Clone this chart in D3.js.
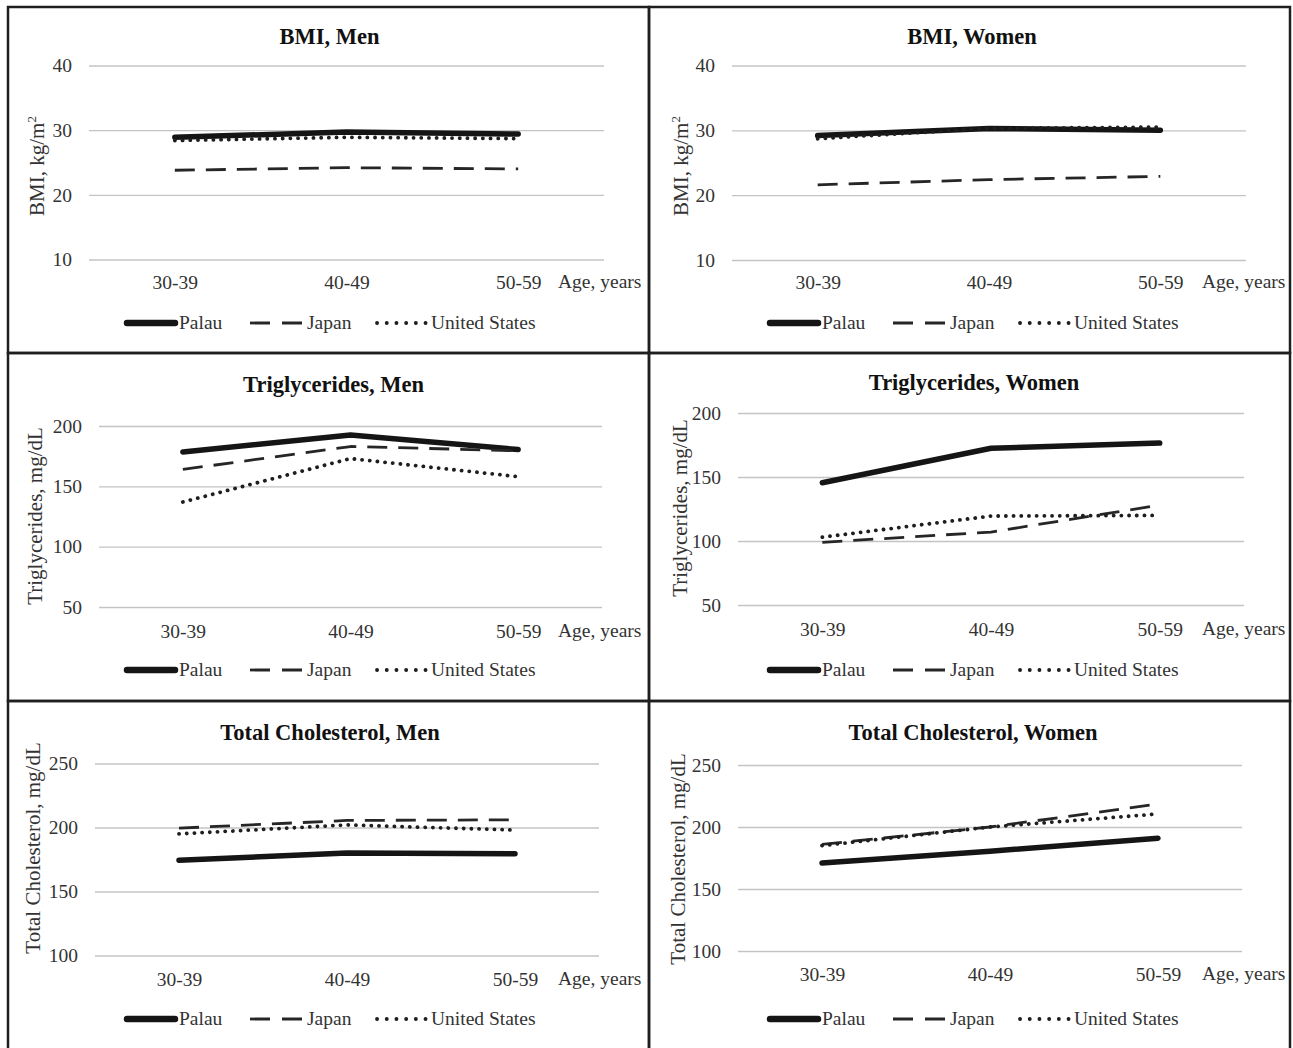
<!DOCTYPE html>
<html>
<head>
<meta charset="utf-8">
<script src="https://cdn.jsdelivr.net/npm/d3@7"></script>
<style>
  html, body { margin: 0; padding: 0; background: #fff; }
  svg { display: block; }
  text { font-family: "Liberation Serif", "Times New Roman", serif; }
</style>
</head>
<body>
<svg id="chart" width="1293" height="1048"></svg>
<script>
// ---------------- data ----------------
const categories = ["30-39", "40-49", "50-59"];
const seriesNames = ["Palau", "Japan", "United States"];

const bmiMenPalau = [28.9, 29.7, 29.4];
const bmiMenJapan = [23.8, 24.2, 24.0];
const bmiMenUS    = [28.4, 28.9, 28.7];

const bmiWomenPalau = [29.2, 30.3, 30.0];
const bmiWomenJapan = [21.6, 22.4, 22.9];
const bmiWomenUS    = [28.7, 30.3, 30.5];

const tgMenPalau = [178.5, 192.5, 180.5];
const tgMenJapan = [164, 183, 179.5];
const tgMenUS    = [137, 173, 158];

const tgWomenPalau = [145.5, 172.5, 176.5];
const tgWomenJapan = [99, 107, 128];
const tgWomenUS    = [103, 119.5, 120];

const tcMenPalau = [174.5, 180, 179.5];
const tcMenJapan = [199.5, 205.5, 206];
const tcMenUS    = [195, 202, 198];

const tcWomenPalau = [171, 180.5, 191];
const tcWomenJapan = [186, 200, 218.5];
const tcWomenUS    = [185, 200, 210.5];

const bmiTicks = [10, 20, 30, 40];
const tgTicks  = [50, 100, 150, 200];
const tcTicks  = [100, 150, 200, 250];

const titles = ["BMI, Men", "BMI, Women", "Triglycerides, Men", "Triglycerides, Women",
                "Total Cholesterol, Men", "Total Cholesterol, Women"];
const xAxisTitle = "Age, years";

// ---------------- panels (layout) ----------------
const panels = [
  { title: titles[0], ylabel: "bmi", ticks: bmiTicks, values: [bmiMenPalau, bmiMenJapan, bmiMenUS],
    box: [8, 7, 649, 353], x0: 89, x1: 604, yTop: 65.5, yBot: 259.5, titleY: 44, ylabX: 44, ylabY: 166, xlabY: 289, legY: 323, legX: 124 },
  { title: titles[1], ylabel: "bmi", ticks: bmiTicks, values: [bmiWomenPalau, bmiWomenJapan, bmiWomenUS],
    box: [649, 7, 1290, 353], x0: 732, x1: 1246, yTop: 65.5, yBot: 260, titleY: 44, ylabX: 688, ylabY: 166, xlabY: 289, legY: 323, legX: 767 },
  { title: titles[2], ylabel: "Triglycerides, mg/dL", ticks: tgTicks, values: [tgMenPalau, tgMenJapan, tgMenUS],
    box: [8, 353, 649, 701], x0: 99, x1: 602, yTop: 426, yBot: 607, titleY: 392, ylabX: 42, ylabY: 516, xlabY: 638, legY: 670, legX: 124 },
  { title: titles[3], ylabel: "Triglycerides, mg/dL", ticks: tgTicks, values: [tgWomenPalau, tgWomenJapan, tgWomenUS],
    box: [649, 353, 1290, 701], x0: 738, x1: 1244, yTop: 413, yBot: 605, titleY: 390, ylabX: 687, ylabY: 508, xlabY: 636, legY: 670, legX: 767 },
  { title: titles[4], ylabel: "Total Cholesterol, mg/dL", ticks: tcTicks, values: [tcMenPalau, tcMenJapan, tcMenUS],
    box: [8, 701, 649, 1060], x0: 95, x1: 599, yTop: 763.5, yBot: 955.5, titleY: 740, ylabX: 40, ylabY: 848, xlabY: 986, legY: 1019, legX: 124 },
  { title: titles[5], ylabel: "Total Cholesterol, mg/dL", ticks: tcTicks, values: [tcWomenPalau, tcWomenJapan, tcWomenUS],
    box: [649, 701, 1290, 1060], x0: 738, x1: 1242, yTop: 765, yBot: 951, titleY: 740, ylabX: 685, ylabY: 859, xlabY: 981, legY: 1019, legX: 767 }
];

const styles = [
  { color: "#151515", width: 5.5, dash: null,     cap: "round" },
  { color: "#262626", width: 2.8, dash: "20,11",  cap: "butt" },
  { color: "#1e1e1e", width: 3.8, dash: "0.1,7.6", cap: "round" }
];

const textColor = "#333333";
const svg = d3.select("#chart");

// panel borders
panels.forEach(p => {
  const [bx0, by0, bx1, by1] = p.box;
  svg.append("rect")
    .attr("x", bx0).attr("y", by0)
    .attr("width", bx1 - bx0).attr("height", by1 - by0)
    .attr("fill", "none").attr("stroke", "#1f1f1f").attr("stroke-width", 2.5);
});

panels.forEach(p => {
  const g = svg.append("g");
  const x = d3.scalePoint().domain(categories).range([p.x0, p.x1]).padding(0.5);
  const y = d3.scaleLinear().domain([p.ticks[0], p.ticks[p.ticks.length - 1]]).range([p.yBot, p.yTop]);

  // y axis with gridlines
  const yAxis = g.append("g")
    .attr("transform", `translate(${p.x0},0)`)
    .call(d3.axisLeft(y).tickValues(p.ticks).tickSize(-(p.x1 - p.x0)).tickPadding(17).tickFormat(d3.format("d")));
  yAxis.select(".domain").remove();
  yAxis.selectAll(".tick line").attr("stroke", "#c4c4c4").attr("stroke-width", 1.3);
  yAxis.selectAll(".tick text")
    .attr("fill", textColor)
    .style("font-family", "'Liberation Serif', serif")
    .style("font-size", "19.5px");

  // x axis labels
  const xAxis = g.append("g")
    .attr("transform", `translate(0,${p.xlabY})`)
    .call(d3.axisBottom(x).tickSize(0).tickPadding(0));
  xAxis.select(".domain").remove();
  xAxis.selectAll(".tick text")
    .attr("dy", 0).attr("y", 0)
    .attr("fill", textColor)
    .style("font-family", "'Liberation Serif', serif")
    .style("font-size", "19.5px");

  g.append("text")
    .attr("x", p.box[0] === 8 ? 558 : 1202)
    .attr("y", p.xlabY - 1)
    .attr("fill", textColor)
    .style("font-size", "19.5px")
    .text(xAxisTitle);

  // title
  g.append("text")
    .attr("x", (p.x0 + p.x1) / 2 - 17)
    .attr("y", p.titleY)
    .attr("text-anchor", "middle")
    .attr("fill", "#111")
    .style("font-size", "22.5px")
    .style("font-weight", "bold")
    .text(p.title);

  // y label
  const yl = g.append("text")
    .attr("transform", `translate(${p.ylabX},${p.ylabY}) rotate(-90)`)
    .attr("text-anchor", "middle")
    .attr("fill", textColor)
    .style("font-size", "21px");
  if (p.ylabel === "bmi") {
    yl.append("tspan").text("BMI, kg/m");
    yl.append("tspan").attr("dy", -8).style("font-size", "13px").text("2");
  } else {
    yl.text(p.ylabel);
  }

  // lines
  const line = d3.line().x((d, i) => x(categories[i])).y(d => y(d));
  p.values.forEach((vals, si) => {
    const s = styles[si];
    g.append("path")
      .datum(vals)
      .attr("d", line)
      .attr("fill", "none")
      .attr("stroke", s.color)
      .attr("stroke-width", s.width)
      .attr("stroke-linecap", s.cap)
      .attr("stroke-linejoin", "round")
      .attr("stroke-dasharray", s.dash);
  });

  // legend
  const legOffsets = [0, 126, 251];
  const textOffsets = [55, 183, 307];
  seriesNames.forEach((name, si) => {
    const s = styles[si];
    const lx = p.legX + legOffsets[si];
    if (si === 0) {
      g.append("line").attr("x1", lx + 3).attr("x2", lx + 51)
        .attr("y1", p.legY).attr("y2", p.legY)
        .attr("stroke", s.color).attr("stroke-width", 6.5).attr("stroke-linecap", "round");
    } else if (si === 1) {
      g.append("line").attr("x1", lx).attr("x2", lx + 52)
        .attr("y1", p.legY).attr("y2", p.legY)
        .attr("stroke", s.color).attr("stroke-width", 2.8).attr("stroke-dasharray", "20,12");
    } else {
      g.append("line").attr("x1", lx + 2).attr("x2", lx + 52)
        .attr("y1", p.legY).attr("y2", p.legY)
        .attr("stroke", s.color).attr("stroke-width", 3.8).attr("stroke-linecap", "round")
        .attr("stroke-dasharray", "0.1,9.6");
    }
    g.append("text")
      .attr("x", p.legX + textOffsets[si])
      .attr("y", p.legY + 6)
      .attr("fill", textColor)
      .style("font-size", "19.5px")
      .text(name);
  });
});
</script>
</body>
</html>
